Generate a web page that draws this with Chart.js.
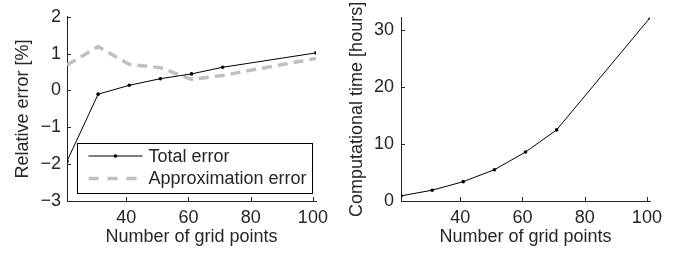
<!DOCTYPE html>
<html>
<head>
<meta charset="utf-8">
<script src="https://cdn.jsdelivr.net/npm/chart.js@4/dist/chart.umd.min.js"></script>
<style>
  html, body { margin: 0; padding: 0; background: #ffffff; }
  #wrap { position: relative; width: 688px; height: 257px; overflow: hidden; }
  .panel { position: absolute; top: 0; width: 344px; height: 257px; }
  #p1 { left: 0; }
  #p2 { left: 344px; }
</style>
</head>
<body>
<div id="wrap">
  <div class="panel" id="p1"><canvas id="c1" width="344" height="257"></canvas></div>
  <div class="panel" id="p2"><canvas id="c2" width="344" height="257"></canvas></div>
</div>
<script>
// ---- data ----
const gridPoints = [21, 31, 41, 51, 61, 71, 101];
const totalError = [-1.92, -0.1, 0.14, 0.32, 0.45, 0.63, 1.02];
const approxError = [0.69, 1.19, 0.71, 0.62, 0.3, 0.41, 0.87];
const compTime = [0.9, 1.9, 3.4, 5.5, 8.6, 12.5, 32.2];
const xTickValues = [40, 60, 80, 100];
const errTickValues = [-3, -2, -1, 0, 1, 2];
const timeTickValues = [0, 10, 20, 30];
const seriesLabels = ['Total error', 'Approximation error'];

const FONT = '"Liberation Sans", Arial, sans-serif';
const FS = 18;
const TXT = '#262626';
const AX = '#262626';

function pts(xs, ys) { return xs.map((x, i) => ({ x: x, y: ys[i] })); }

const inwardTicks = {
  id: 'inwardTicks',
  afterDraw(chart) {
    const ctx = chart.ctx;
    const a = chart.chartArea;
    ctx.save();
    ctx.strokeStyle = AX;
    ctx.lineWidth = 1;
    const xs = chart.scales.x, ys = chart.scales.y;
    xs.ticks.forEach(t => {
      const px = Math.round(xs.getPixelForValue(t.value)) + 0.5;
      ctx.beginPath(); ctx.moveTo(px, a.bottom); ctx.lineTo(px, a.bottom - 4); ctx.stroke();
    });
    ys.ticks.forEach(t => {
      const py = Math.round(ys.getPixelForValue(t.value)) + 0.5;
      ctx.beginPath(); ctx.moveTo(a.left, py); ctx.lineTo(a.left + 4, py); ctx.stroke();
    });
    ctx.restore();
  }
};

const boxLegend = {
  id: 'boxLegend',
  afterDraw(chart) {
    const ctx = chart.ctx;
    const a = chart.chartArea;
    const x0 = a.left + 10.5, y0 = 143.5, w = 235, h = 50;
    ctx.save();
    ctx.fillStyle = '#ffffff';
    ctx.fillRect(x0, y0, w, h);
    ctx.strokeStyle = '#000000';
    ctx.lineWidth = 1;
    ctx.strokeRect(x0, y0, w, h);
    const ds = chart.data.datasets;
    ctx.beginPath(); ctx.moveTo(x0 + 11, 156); ctx.lineTo(x0 + 65, 156);
    ctx.strokeStyle = ds[0].borderColor; ctx.lineWidth = ds[0].borderWidth; ctx.setLineDash([]); ctx.stroke();
    ctx.beginPath(); ctx.arc(x0 + 38, 156, 1.8, 0, Math.PI * 2); ctx.fillStyle = '#000'; ctx.fill();
    ctx.beginPath(); ctx.moveTo(x0 + 11, 178.5); ctx.lineTo(x0 + 65, 178.5);
    ctx.strokeStyle = ds[1].borderColor; ctx.lineWidth = ds[1].borderWidth; ctx.setLineDash([10, 9]); ctx.stroke();
    ctx.setLineDash([]);
    ctx.fillStyle = TXT;
    ctx.font = FS + 'px ' + FONT;
    ctx.textBaseline = 'middle';
    ctx.textAlign = 'left';
    ctx.fillText(ds[0].label, x0 + 71, 157);
    ctx.fillText(ds[1].label, x0 + 71, 179.5);
    ctx.restore();
  }
};

function xScale(titlePad) {
  return {
    type: 'linear', min: 21, max: 101,
    afterBuildTicks: s => { s.ticks = xTickValues.map(v => ({ value: v })); },
    afterFit: s => { s.height = 56; },
    grid: { display: false, drawTicks: false },
    border: { display: true, color: AX, width: 1 },
    ticks: { color: TXT, font: { family: FONT, size: FS }, padding: 6, maxRotation: 0, autoSkip: false },
    title: { display: true, text: 'Number of grid points', color: TXT, font: { family: FONT, size: FS }, padding: { top: 0, bottom: titlePad } }
  };
}

Chart.defaults.font.family = FONT;

new Chart(document.getElementById('c1'), {
  type: 'line',
  data: {
    datasets: [
      { label: seriesLabels[0], data: pts(gridPoints, totalError), borderColor: '#000000', backgroundColor: '#000000',
        borderWidth: 1, pointRadius: 1.8, pointBackgroundColor: '#000', pointBorderWidth: 0, tension: 0, order: 1 },
      { label: seriesLabels[1], data: pts(gridPoints, approxError), borderColor: '#c0c0c0', backgroundColor: '#c0c0c0',
        borderWidth: 3.5, borderDash: [10, 6], pointRadius: 0, tension: 0, order: 2 }
    ]
  },
  options: {
    responsive: false, animation: false, devicePixelRatio: 1,
    layout: { padding: { top: 12, right: 28, bottom: 0, left: 0 } },
    plugins: { legend: { display: false }, tooltip: { enabled: false } },
    scales: {
      x: xScale(9),
      y: {
        type: 'linear', min: -3, max: 2,
        afterBuildTicks: s => { s.ticks = errTickValues.map(v => ({ value: v })); },
        afterFit: s => { s.width = 67; },
        grid: { display: false, drawTicks: false },
        border: { display: true, color: AX, width: 1 },
        ticks: { color: TXT, font: { family: FONT, size: FS }, padding: 6, callback: v => (v < 0 ? '\u2212' + Math.abs(v) : String(v)) },
        title: { display: true, text: 'Relative error [%]', color: TXT, font: { family: FONT, size: FS }, padding: { top: 12, bottom: 0 } }
      }
    }
  },
  plugins: [inwardTicks, boxLegend]
});

new Chart(document.getElementById('c2'), {
  type: 'line',
  data: {
    datasets: [
      { label: 'Computational time', data: pts(gridPoints, compTime), borderColor: '#000000', backgroundColor: '#000000',
        borderWidth: 1, pointRadius: 1.8, pointBackgroundColor: '#000', pointBorderWidth: 0, tension: 0 }
    ]
  },
  options: {
    responsive: false, animation: false, devicePixelRatio: 1,
    layout: { padding: { top: 11, right: 38, bottom: 0, left: 0 } },
    plugins: { legend: { display: false }, tooltip: { enabled: false } },
    scales: {
      x: xScale(9),
      y: {
        type: 'linear', min: 0, max: 32.2,
        afterBuildTicks: s => { s.ticks = timeTickValues.map(v => ({ value: v })); },
        afterFit: s => { s.width = 57; },
        grid: { display: false, drawTicks: false },
        border: { display: true, color: AX, width: 1 },
        ticks: { color: TXT, font: { family: FONT, size: FS }, padding: 7 },
        title: { display: true, text: 'Computational time [hours]', color: TXT, font: { family: FONT, size: FS }, padding: { top: 2, bottom: 0 } }
      }
    }
  },
  plugins: [inwardTicks]
});
</script>
</body>
</html>
